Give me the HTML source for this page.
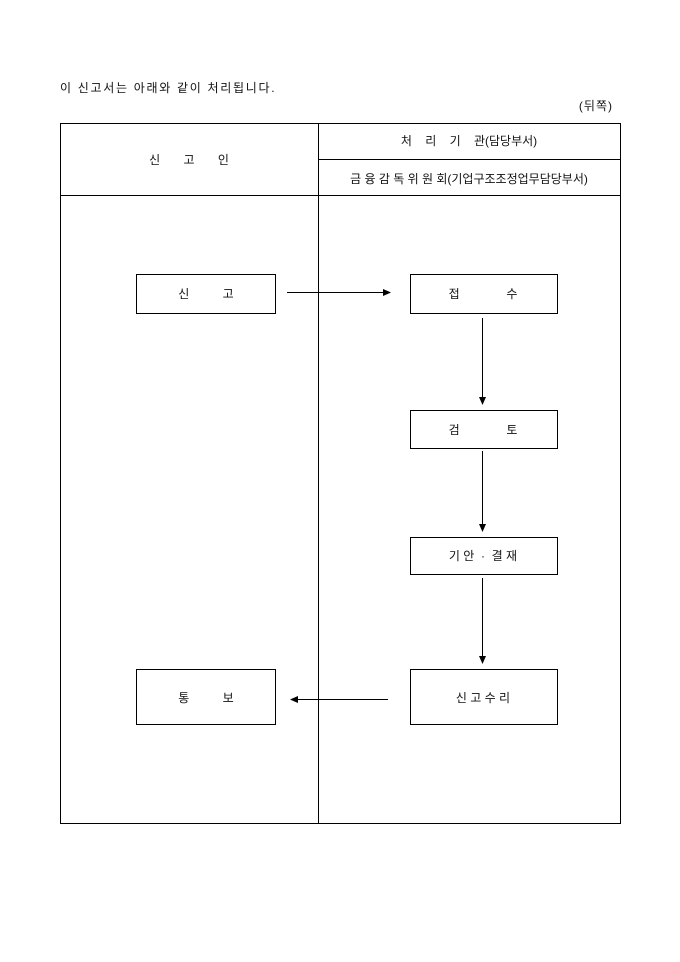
<!DOCTYPE html>
<html><head><meta charset="utf-8"><style>
html,body{margin:0;padding:0;background:#fff;}
svg{display:block;}
text{font-family:"Liberation Sans","Noto Sans CJK KR","NanumGothic",sans-serif;font-size:12px;fill:#111;}
</style></head><body>
<svg width="680" height="962" viewBox="0 0 680 962" xmlns="http://www.w3.org/2000/svg">
<defs><marker id="a" markerWidth="8" markerHeight="8" refX="7" refY="4" orient="auto" markerUnits="userSpaceOnUse"><path d="M0,0.5 L8,4 L0,7.5 Z" fill="#000"/></marker></defs>
<text x="60" y="92" font-size="12.5" letter-spacing="1.7">이 신고서는 아래와 같이 처리됩니다.</text>
<text x="613" y="110" text-anchor="end" letter-spacing="1">(뒤쪽)</text>
<g fill="none" stroke="#000" stroke-width="1">
<rect x="60.5" y="123.5" width="560" height="700"/>
<line x1="318.5" y1="123.5" x2="318.5" y2="823.5"/>
<line x1="318.5" y1="159.5" x2="620.5" y2="159.5"/>
<line x1="60.5" y1="195.5" x2="620.5" y2="195.5"/>
<rect x="136.5" y="274.5" width="139" height="39"/>
<rect x="410.5" y="274.5" width="147" height="39"/>
<rect x="410.5" y="410.5" width="147" height="38"/>
<rect x="410.5" y="537.5" width="147" height="37"/>
<rect x="410.5" y="669.5" width="147" height="55"/>
<rect x="136.5" y="669.5" width="139" height="55"/>
<line x1="287" y1="292.5" x2="390" y2="292.5" marker-end="url(#a)"/>
<line x1="482.5" y1="318" x2="482.5" y2="404" marker-end="url(#a)"/>
<line x1="482.5" y1="451" x2="482.5" y2="531" marker-end="url(#a)"/>
<line x1="482.5" y1="578" x2="482.5" y2="663" marker-end="url(#a)"/>
<line x1="388" y1="699.5" x2="291" y2="699.5" marker-end="url(#a)"/>
</g>
<text x="189" y="164" text-anchor="middle" xml:space="preserve">신       고       인</text>
<text x="469" y="145" text-anchor="middle" xml:space="preserve">처    리    기    관(담당부서)</text>
<text x="469" y="183" text-anchor="middle" letter-spacing="0">금 융 감 독 위 원 회(기업구조조정업무담당부서)</text>
<text x="206" y="298" text-anchor="middle" xml:space="preserve">신          고</text>
<text x="483" y="298" text-anchor="middle" xml:space="preserve">접              수</text>
<text x="483" y="434" text-anchor="middle" xml:space="preserve">검              토</text>
<text x="483" y="560" text-anchor="middle" xml:space="preserve">기 안  ·  결 재</text>
<text x="483" y="702" text-anchor="middle" xml:space="preserve">신 고 수 리</text>
<text x="206" y="702" text-anchor="middle" xml:space="preserve">통          보</text>
</svg>
</body></html>
